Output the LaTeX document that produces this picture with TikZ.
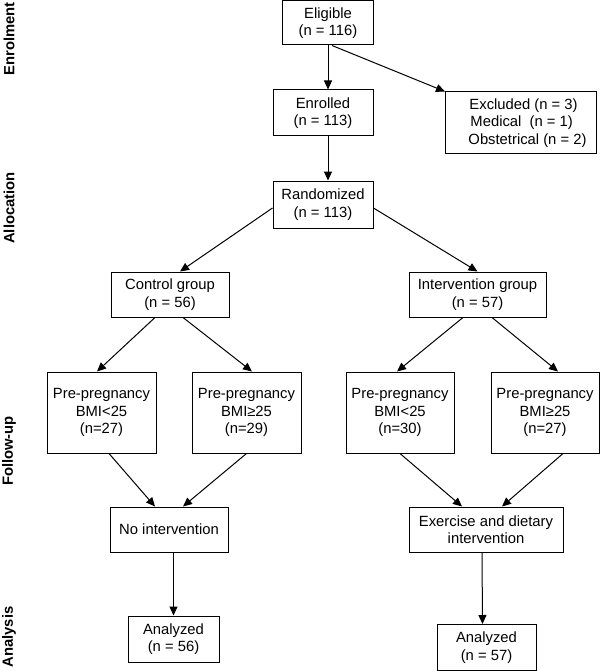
\documentclass[tikz,border=0pt]{standalone}
\usepackage{fontspec}
\setmainfont{Liberation Sans}
\usetikzlibrary{arrows.meta}

\begin{document}
\begin{tikzpicture}[x=1pt,y=-1pt,>={Triangle[length=9pt,width=8pt]},
font=\fontsize{14.8}{17.5}\selectfont,
doboz/.style={rectangle,draw=black,line width=1pt,inner sep=2pt,align=center},
fazis/.style={rotate=90,inner sep=0pt,font=\fontsize{14.8}{17.5}\selectfont\bfseries}]
\useasboundingbox (0,0) rectangle (600,671);
\pgfmathsetmacro{\csoport}{294.5}
\pgfmathsetmacro{\bmi}{412.5}
\pgfmathsetmacro{\kezeles}{529.5}
\node[doboz,minimum width=91pt,minimum height=44pt](eligible) at (328,23){Eligible\\(n = 116)};
\node[doboz,minimum width=100pt,minimum height=46pt](enrolled) at (323,113){Enrolled\\(n = 113)};
\node[doboz,minimum width=151pt,minimum height=62pt,align=left](excluded) at (521,123)
{\hspace*{14pt}Excluded (n = 3)\\\hspace*{15pt}Medical~~(n = 1)\\\hspace*{13pt}Obstetrical (n = 2)};
\node[doboz,minimum width=100pt,minimum height=47pt](randomized) at (323,204.5){Randomized\\(n = 113)};
\node[doboz,minimum width=118pt,minimum height=45pt](control) at (170,\csoport){Control group\\(n = 56)};
\node[doboz,minimum width=137pt,minimum height=45pt](intervention) at (477.5,\csoport){Intervention group\\(n = 57)};
\node[doboz,minimum width=109pt,minimum height=81pt](ctrl-low) at (101.5,\bmi){Pre-pregnancy\\BMI<25\\(n=27)};
\node[doboz,minimum width=109pt,minimum height=81pt](ctrl-high) at (246.5,\bmi){Pre-pregnancy\\BMI≥25\\(n=29)};
\node[doboz,minimum width=108pt,minimum height=81pt](int-low) at (400,\bmi){Pre-pregnancy\\BMI<25\\(n=30)};
\node[doboz,minimum width=108pt,minimum height=81pt](int-high) at (545,\bmi){Pre-pregnancy\\BMI≥25\\(n=27)};
\node[doboz,minimum width=118pt,minimum height=45pt](no-int) at (169,\kezeles){No intervention};
\node[doboz,minimum width=154pt,minimum height=45pt](diet-int) at (486,\kezeles){Exercise and dietary\\intervention};
\node[doboz,minimum width=91pt,minimum height=46pt](analyzed-ctrl) at (173.5,639){Analyzed\\(n = 56)};
\node[doboz,minimum width=99pt,minimum height=46pt](analyzed-int) at (486.5,647.5){Analyzed\\(n = 57)};
\begin{scope}[->, line width=1pt]
\draw (eligible.south)--(eligible.south |- enrolled.north);
\draw (eligible.south |- enrolled.south)--(eligible.south |- randomized.north);
\draw ([xshift=4pt]eligible.south)--(excluded.north west);
\draw ([yshift=-3.5pt]randomized.west)--([xshift=10pt]control.north);
\draw ([yshift=-3.5pt]randomized.east)--(intervention.north);
\draw ([xshift=-15pt]control.south)--([xshift=-4.5pt]ctrl-low.north);
\draw ([xshift=13pt]control.south)--([xshift=5.5pt]ctrl-high.north);
\draw ([xshift=-14.5pt]intervention.south)--([xshift=-3pt]int-low.north);
\draw ([xshift=14.5pt]intervention.south)--([xshift=13pt]int-high.north);
\draw ([xshift=7.5pt]ctrl-low.south)--([xshift=-14pt]no-int.north);
\draw (ctrl-high.south)--([xshift=14pt]no-int.north);
\draw (int-low.south)--([xshift=-24pt]diet-int.north);
\draw ([xshift=18pt]int-high.south)--([xshift=16pt]diet-int.north);
\draw (no-int.south -| analyzed-ctrl.north)--(analyzed-ctrl.north);
\draw ([xshift=-4pt]diet-int.south)--([xshift=-4pt]analyzed-int.north);
\end{scope}
\node[fazis](enrolment) at (9,39){Enrolment};
\node[fazis](allocation) at (9,208){Allocation};
\node[fazis](follow-up) at (9,451){Follow-up};
\node[fazis](analysis) at (9,637){Analysis};
\end{tikzpicture}
\end{document}
